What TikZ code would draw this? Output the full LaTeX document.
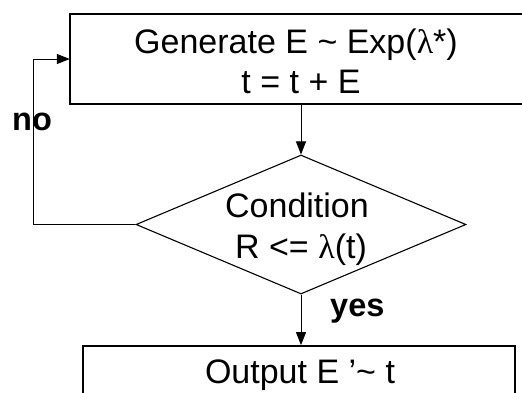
\documentclass[tikz,border=0pt]{standalone}
\usepackage{fontspec}
\setmainfont{Liberation Sans}
\newfontfamily\lamfont{Liberation Serif}
\usetikzlibrary{shapes.geometric,arrows.meta}
\begin{document}
\begin{tikzpicture}[x=1bp,y=-1bp,
  box/.style={draw, line width=1.8bp, inner sep=0pt},
  openbox/.style={inner sep=0pt},
  edge3/.style={line width=1.8bp},
  decision/.style={draw, shape=diamond, line width=1.1bp, inner sep=0pt},
  txt/.style={inner sep=0pt, anchor=base, font=\fontsize{34bp}{40bp}\selectfont},
  lbl/.style={inner sep=0pt, anchor=base west, font=\fontsize{32.5bp}{38bp}\selectfont\bfseries},
  conn/.style={line width=1bp, -{Triangle[length=13bp,width=10bp]}}]
\useasboundingbox (0,0) rectangle (522,392);
\fill[white] (0,0) rectangle (522,392);
\begin{scope}
\clip (0,0) rectangle (522,392);
% boxes
\node[openbox, minimum width=480bp, minimum height=90bp] (gen) at (310,59) {};
\draw[edge3] (gen.north east) -- (gen.north west) -- (gen.south west) -- (gen.south east);
\node[decision, minimum width=330bp, minimum height=139bp] (cond) at (301,224.5) {};
\node[box, minimum width=432bp, minimum height=90bp] (out) at (299,391) {};
% texts
\node[txt] (g1) at (296,53) {Generate E \textasciitilde{} Exp({\lamfont λ}*)};
\node[txt] (g2) at (301,93) {t = t + E};
\node[txt] (c1) at (297,217) {Condition};
\node[txt] (c2) at (301,258) {R <= {\lamfont λ}(t)};
\node[txt] (o1) at (300,383) {Output E ’\textasciitilde{} t};
\node[lbl] (no) at (12,130) {no};
\node[lbl] (yes) at (330,316) {yes};
% connectors
\coordinate (lp) at (33,224.5);
\draw[conn] (gen.south -| cond.north) -- (cond.north);
\draw[conn] (cond.south) -- (out.north -| cond.south);
\draw[conn] (cond.west) -- (lp) |- (gen.west);
\end{scope}
\end{tikzpicture}
\end{document}
